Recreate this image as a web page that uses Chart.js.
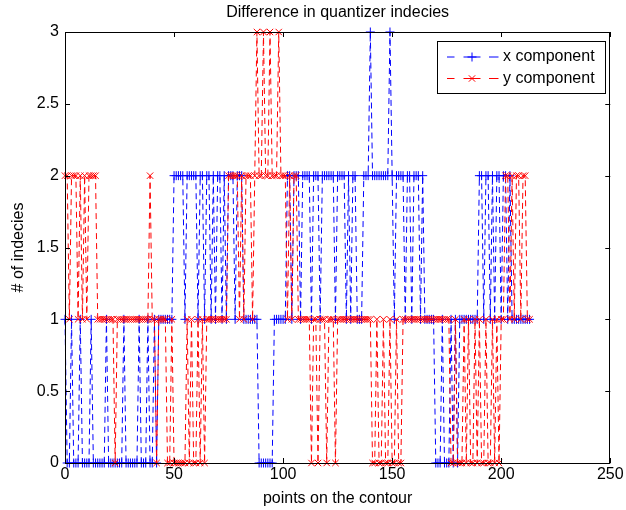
<!DOCTYPE html>
<html>
<head>
<meta charset="utf-8">
<script src="https://cdn.jsdelivr.net/npm/chart.js@4.4.1/dist/chart.umd.min.js"></script>
<style>
	body { margin: 0; background: #fff; }
</style>
</head>
<body>
<canvas id="quantChart" width="626" height="510"></canvas>
<script>
// values, one per contour point (0..213)
const xComp = [
	1,0,0,1,0,0,0,1,0,0, 0,0,1,0,0,0,0,0,0,1, 0,0,0,0,0,0,0,1,0,0, 0,0,0,0,1,0,0,0,1,0,
	0,1,0,1,1,1,1,1,1,1, 2,2,2,2,2,1,2,2,2,2, 2,1,2,2,1,2,2,1,2,1, 2,2,1,2,1,2,2,2,1,2,
	2,2,1,1,1,1,1,1,1,0, 0,0,0,0,0,0,1,1,1,1, 1,1,2,2,1,2,2,2,1,2, 2,2,2,1,2,2,2,1,2,2,
	2,2,2,2,1,2,2,2,2,1, 2,1,2,2,1,1,1,2,2,2, 3,2,2,2,2,2,2,2,2,3, 2,1,2,2,2,2,1,2,2,1,
	2,2,2,1,2,1,1,1,1,1, 0,0,0,1,0,0,0,1,0,1, 0,1,1,1,1,1,1,1,1,1, 2,2,1,2,2,1,2,1,2,2,
	1,2,2,1,2,1,1,1,1,1, 1,1,1,1
];
const yComp = [
	2,2,1,2,2,2,1,2,1,2, 1,2,2,2,2,1,1,1,1,1, 1,1,1,0,1,1,1,1,1,1, 1,1,1,1,1,1,1,1,1,2,
	1,1,0,1,1,1,1,0,0,1, 0,0,0,0,0,0,1,0,1,0, 0,1,0,1,0,1,1,1,1,1, 1,1,1,1,1,2,2,2,2,2,
	1,2,1,2,2,2,1,2,3,2, 2,3,2,2,3,2,2,2,3,2, 2,2,1,2,1,2,2,1,1,1, 1,1,1,0,1,1,0,1,1,1,
	0,1,1,1,0,1,1,1,1,1, 1,1,1,1,1,1,1,1,1,1, 1,0,0,1,0,0,1,0,0,1, 0,0,1,0,0,1,1,1,1,1,
	1,1,1,1,1,1,1,1,1,1, 1,1,1,1,1,1,1,0,0,1, 0,0,0,1,0,1,0,0,1,0, 1,0,0,1,0,0,1,0,1,0,
	1,1,2,2,1,2,1,2,2,1, 2,2,1,1
];
const xTicks = [0, 50, 100, 150, 200, 250];
const yTicks = [0, 0.5, 1, 1.5, 2, 2.5, 3];
const seriesNames = ['x component', 'y component'];

const FONT = { family: "'Liberation Sans', Arial, Helvetica, sans-serif", size: 16, weight: 'normal' };

function toPoints(vals) {
	return vals.map((v, i) => ({ x: i, y: v }));
}

// MATLAB look: box, inward ticks on all sides, legend with marker in the middle
const matlabAxes = {
	id: 'matlabAxes',
	afterDatasetsDraw(chart) {
		const { ctx, chartArea: a, scales } = chart;
		ctx.save();
		ctx.strokeStyle = '#000';
		ctx.lineWidth = 1;
		ctx.setLineDash([]);
		ctx.strokeRect(Math.round(a.left) + 0.5, Math.round(a.top) + 0.5, Math.round(a.right - a.left) - 1, Math.round(a.bottom - a.top));
		ctx.beginPath();
		xTicks.forEach(v => {
			const px = Math.round(scales.x.getPixelForValue(v)) + 0.5;
			ctx.moveTo(px, a.bottom); ctx.lineTo(px, a.bottom - 5);
			ctx.moveTo(px, a.top); ctx.lineTo(px, a.top + 5);
		});
		yTicks.forEach(v => {
			const py = Math.round(scales.y.getPixelForValue(v)) + 0.5;
			ctx.moveTo(a.left, py); ctx.lineTo(a.left + 5, py);
			ctx.moveTo(a.right, py); ctx.lineTo(a.right - 5, py);
		});
		ctx.stroke();

		// legend
		const bx = 437.5, by = 41.5, bw = 168, bh = 52;
		ctx.fillStyle = '#fff';
		ctx.fillRect(bx, by, bw, bh);
		ctx.strokeRect(bx, by, bw, bh);
		const rows = [
			{ name: seriesNames[0], color: '#0000ff', style: 'cross', y: 57 },
			{ name: seriesNames[1], color: '#ff0000', style: 'crossRot', y: 78.5 }
		];
		rows.forEach(r => {
			ctx.strokeStyle = r.color;
			ctx.beginPath();
			[[447, 454.5], [463.5, 480.5], [489, 498.5]].forEach(s => {
				ctx.moveTo(s[0], r.y); ctx.lineTo(s[1], r.y);
			});
			ctx.stroke();
			Chart.helpers.drawPoint(ctx, { pointStyle: r.style, radius: 4.5, borderWidth: 1 }, 472, r.y);
			ctx.fillStyle = '#000';
			ctx.font = `16px ${FONT.family}`;
			ctx.textBaseline = 'middle';
			ctx.textAlign = 'left';
			ctx.fillText(r.name, 503, r.y);
		});
		ctx.restore();
	}
};

const ctx = document.getElementById('quantChart');

new Chart(ctx, {
	type: 'line',
	data: {
		datasets: [{
			label: seriesNames[0],
			data: toPoints(xComp),
			borderColor: '#0000ff',
			backgroundColor: '#0000ff',
			pointBorderColor: '#0000ff',
			borderWidth: 1,
			borderDash: [6, 4],
			pointStyle: 'cross',
			pointRadius: 4.5,
			pointBorderWidth: 1,
			tension: 0,
			clip: 8,
			order: 1
		}, {
			label: seriesNames[1],
			data: toPoints(yComp),
			borderColor: '#ff0000',
			backgroundColor: '#ff0000',
			pointBorderColor: '#ff0000',
			borderWidth: 1,
			borderDash: [6, 4],
			pointStyle: 'crossRot',
			pointRadius: 4.5,
			pointBorderWidth: 1,
			tension: 0,
			clip: 8,
			order: 0
		}]
	},
	options: {
		responsive: false,
		animation: false,
		devicePixelRatio: 1,
		layout: { padding: { left: 0, right: 14, top: 0, bottom: 0 } },
		plugins: {
			legend: { display: false },
			tooltip: { enabled: false },
			title: {
				display: true,
				fullSize: false,
				text: 'Difference in quantizer indecies',
				color: '#000',
				font: FONT,
				padding: { top: 2.5, bottom: 10.3 }
			}
		},
		scales: {
			x: {
				type: 'linear',
				min: 0,
				max: 250,
				afterBuildTicks: s => { s.ticks = xTicks.map(v => ({ value: v })); },
				afterFit: s => { s.height = 47; },
				grid: { display: false, drawTicks: false },
				border: { display: false },
				ticks: { color: '#000', font: FONT, padding: 2.4, maxRotation: 0, callback: v => String(v) },
				title: { display: true, text: 'points on the contour', color: '#000', font: FONT, padding: { top: 0, bottom: 2 } }
			},
			y: {
				type: 'linear',
				min: 0,
				max: 3,
				afterBuildTicks: s => { s.ticks = yTicks.map(v => ({ value: v })); },
				afterFit: s => { s.width = 65; },
				grid: { display: false, drawTicks: false },
				border: { display: false },
				ticks: { color: '#000', font: FONT, padding: 6, callback: v => String(v) },
				title: { display: true, text: '# of indecies', color: '#000', font: FONT, padding: { top: 8.7, bottom: 0 } }
			}
		}
	},
	plugins: [matlabAxes]
});
</script>
</body>
</html>
